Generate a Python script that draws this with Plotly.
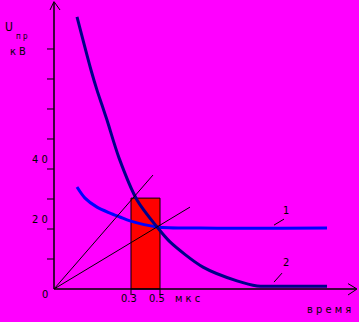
import plotly.graph_objects as go

# ---- data (time in arbitrary units, voltage in kV) ----
curve2_t = [2.3, 3.7, 4.3, 4.8, 5.3, 6.5, 8.3, 10.3, 11.6, 14.9, 18.3, 20.3, 22.0, 27.3]
curve2_u = [90.7, 73, 66.3, 61.3, 56.3, 43.7, 29.7, 20.7, 15.7, 7.3, 2.7, 1.0, 0.9, 0.9]

curve1_t = [2.3, 3.1, 4.3, 5.6, 6.6, 7.6, 10.3, 14.6, 27.3]
curve1_u = [34, 30.3, 27.3, 25.3, 24, 22.7, 20.7, 20.3, 20.3]

ray_a_end = (9.9, 38.0)
ray_b_end = (13.6, 27.3)

bar_t = [7.7, 10.6]          # pulse window edges
bar_u = 30.3                 # pulse height
bar_labels = ["0.3", "0.5"]
bar_unit = "м к с"

y_ticks = [0, 10, 20, 30, 40, 50, 60, 70, 80]
y_tick_labels = {0: "0", 20: "2 0", 40: "4 0"}

BG = "#FF00FF"
FONT = "Liberation Sans Narrow, DejaVu Sans Condensed, Arial Narrow, sans-serif"

fig = go.Figure()

shapes = []
shapes.append(dict(type="rect", x0=bar_t[0], x1=bar_t[1], y0=0, y1=bar_u,
                   fillcolor="#FF0000", line=dict(color="black", width=1), layer="below"))
for t in bar_t:
    shapes.append(dict(type="line", x0=t, x1=t, y0=0, y1=-2, line=dict(color="black", width=1)))
for end in (ray_a_end, ray_b_end):
    shapes.append(dict(type="line", x0=0, y0=0, x1=end[0], y1=end[1],
                       line=dict(color="black", width=1)))
shapes.append(dict(type="line", x0=0, y0=0, x1=0, y1=95.5, line=dict(color="black", width=1.5)))
shapes.append(dict(type="line", x0=0, y0=0, x1=30.2, y1=0, line=dict(color="black", width=1.5)))
shapes.append(dict(type="line", x0=-0.4, y0=93, x1=0, y1=95.8, line=dict(color="black", width=1)))
shapes.append(dict(type="line", x0=0.6, y0=93, x1=0, y1=95.8, line=dict(color="black", width=1)))
shapes.append(dict(type="line", x0=29.4, y0=1.8, x1=30.3, y1=0, line=dict(color="black", width=1)))
shapes.append(dict(type="line", x0=29.4, y0=-2.0, x1=30.3, y1=0, line=dict(color="black", width=1)))
for v in y_ticks[1:]:
    shapes.append(dict(type="line", x0=-0.7, x1=0, y0=v, y1=v, line=dict(color="black", width=1)))
shapes.append(dict(type="line", x0=22.0, y0=21.3, x1=23.0, y1=23.3, line=dict(color="black", width=1)))
shapes.append(dict(type="line", x0=22.0, y0=2.3, x1=22.8, y1=5.3, line=dict(color="black", width=1)))

fig.add_trace(go.Scatter(x=curve1_t, y=curve1_u, mode="lines",
                         line=dict(color="#0000FF", width=3, shape="spline", smoothing=0.8),
                         hoverinfo="skip", showlegend=False))
fig.add_trace(go.Scatter(x=curve2_t, y=curve2_u, mode="lines",
                         line=dict(color="#000088", width=3, shape="spline", smoothing=0.8),
                         hoverinfo="skip", showlegend=False))

ann = []
def txt(x, y, s, size=11):
    ann.append(dict(x=x, y=y, text=s, showarrow=False, xanchor="center", yanchor="middle",
                    font=dict(family=FONT, size=size, color="black")))

for v, s in y_tick_labels.items():
    if v == 0:
        txt(-0.9, -1.7, s)
    else:
        txt(-1.4, v + 3.3, s)
txt(-4.5, 87.3, "U", 12)
txt(-3.2, 84.0, "п р", 8)
txt(-3.6, 79.3, "к В")
txt(bar_t[0] - 0.2, -3.3, bar_labels[0])
txt(bar_t[1] - 0.3, -3.3, bar_labels[1])
txt(13.3, -3.3, bar_unit)
txt(27.5, -6.7, "в р е м я")
txt(23.2, 26.3, "1")
txt(23.2, 9.0, "2")

fig.update_layout(
    width=359, height=322, margin=dict(l=0, r=0, t=0, b=0),
    paper_bgcolor=BG, plot_bgcolor=BG,
    xaxis=dict(range=[-5.4, 30.5], visible=False, fixedrange=True),
    yaxis=dict(range=[-11, 96.33], visible=False, fixedrange=True),
    shapes=shapes, annotations=ann,
)

fig.write_html("out.html")
